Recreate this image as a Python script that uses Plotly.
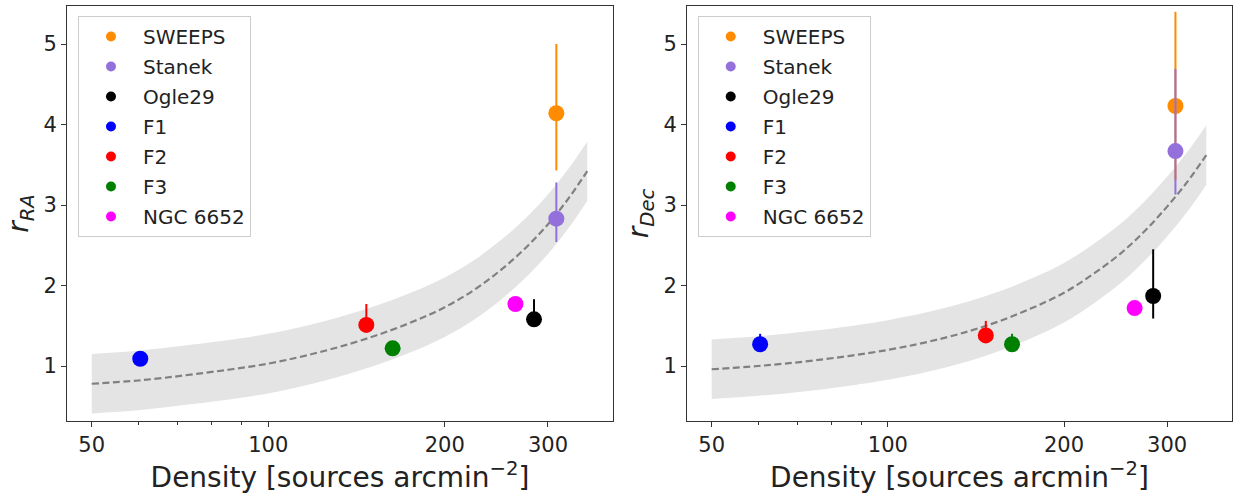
import plotly.graph_objects as go

# Surveys / fields and their source densities [sources arcmin^-2]
names = ["SWEEPS", "Stanek", "Ogle29", "F1", "F2", "F3", "NGC 6652"]
colors = ["#ff8c00", "#9370db", "#000000", "#0000ff", "#ff0000", "#008000", "#ff00ff"]
density = [310, 310, 284, 60.5, 147, 163, 264]

# Scale ratios along RA with asymmetric uncertainties
r_ra = [4.14, 2.83, 1.58, 1.09, 1.51, 1.22, 1.77]
r_ra_up = [0.86, 0.45, 0.25, 0.0, 0.26, 0.0, 0.0]
r_ra_dn = [0.71, 0.29, 0.0, 0.0, 0.0, 0.0, 0.0]

# Scale ratios along Dec with asymmetric uncertainties
r_dec = [4.23, 3.67, 1.87, 1.27, 1.38, 1.27, 1.72]
r_dec_up = [1.17, 1.02, 0.58, 0.13, 0.18, 0.13, 0.0]
r_dec_dn = [0.92, 0.54, 0.28, 0.0, 0.0, 0.0, 0.0]

# Model relation and its 1-sigma envelope
fit_x = [50, 60, 75, 100, 125, 150, 175, 200, 225, 250, 275, 300, 325, 350]
fit_ra = [0.78, 0.82, 0.90, 1.03, 1.19, 1.36, 1.54, 1.73, 1.95, 2.20, 2.47, 2.76, 3.08, 3.42]
fit_ra_lo = [0.41, 0.45, 0.53, 0.66, 0.82, 0.99, 1.17, 1.36, 1.58, 1.83, 2.10, 2.39, 2.71, 3.05]
fit_ra_hi = [1.15, 1.19, 1.27, 1.40, 1.56, 1.73, 1.91, 2.10, 2.32, 2.57, 2.84, 3.13, 3.45, 3.79]
fit_dec = [0.96, 1.00, 1.07, 1.20, 1.35, 1.52, 1.71, 1.91, 2.15, 2.40, 2.68, 2.98, 3.29, 3.62]
fit_dec_lo = [0.59, 0.63, 0.70, 0.83, 0.98, 1.15, 1.34, 1.54, 1.78, 2.03, 2.31, 2.61, 2.92, 3.25]
fit_dec_hi = [1.33, 1.37, 1.44, 1.57, 1.72, 1.89, 2.08, 2.28, 2.52, 2.77, 3.05, 3.35, 3.66, 3.99]

x_ticks = [50, 100, 200, 300]
x_minor = [60, 70, 80, 90]
y_ticks = [1, 2, 3, 4, 5]

FONT = "DejaVu Sans"
INK = "#222222"
BAND = "#e4e4e4"

fig = go.Figure()


def add_panel(xa, ya, lg, y, up, dn, fit, lo, hi):
    fig.add_trace(go.Scatter(x=fit_x, y=lo, mode="lines", line=dict(width=0, shape="spline"),
                             xaxis=xa, yaxis=ya, showlegend=False, hoverinfo="skip"))
    fig.add_trace(go.Scatter(x=fit_x, y=hi, mode="lines", line=dict(width=0, shape="spline"),
                             fill="tonexty", fillcolor=BAND,
                             xaxis=xa, yaxis=ya, showlegend=False, hoverinfo="skip"))
    fig.add_trace(go.Scatter(x=fit_x, y=fit, mode="lines",
                             line=dict(color="#808080", width=2.2, dash="7px,3.5px", shape="spline"),
                             xaxis=xa, yaxis=ya, showlegend=False, hoverinfo="skip"))
    for i, n in enumerate(names):
        fig.add_trace(go.Scatter(
            x=[density[i]], y=[y[i]], mode="markers",
            marker=dict(color=colors[i], size=16, line=dict(width=0)),
            error_y=dict(type="data", symmetric=False, array=[up[i]], arrayminus=[dn[i]],
                         color=colors[i], thickness=2, width=0),
            xaxis=xa, yaxis=ya, showlegend=False, name=n))
    for i, n in enumerate(names):
        fig.add_trace(go.Scatter(
            x=[None], y=[None], mode="markers", name=n,
            marker=dict(color=colors[i], size=10),
            xaxis=xa, yaxis=ya, legend=lg, legendgroup=lg + n, showlegend=True))


add_panel("x", "y", "legend", r_ra, r_ra_up, r_ra_dn, fit_ra, fit_ra_lo, fit_ra_hi)
add_panel("x2", "y2", "legend2", r_dec, r_dec_up, r_dec_dn, fit_dec, fit_dec_lo, fit_dec_hi)

xaxis_common = dict(
    type="log", range=[1.6568, 2.588],
    tickmode="array", tickvals=x_ticks, ticktext=[str(v) for v in x_ticks],
    ticks="outside", ticklen=5, tickwidth=1, tickcolor="#333333",
    minor=dict(tickmode="array", tickvals=x_minor, ticks="outside", ticklen=3,
               tickwidth=1, tickcolor="#333333"),
    showgrid=False, zeroline=False,
    showline=True, linecolor="#333333", linewidth=1, mirror=True,
    tickfont=dict(family=FONT, size=21, color=INK),
    title=dict(text="Density [sources arcmin<sup>\u22122</sup>]",
               font=dict(family=FONT, size=28, color=INK), standoff=6),
)
yaxis_common = dict(
    range=[0.317, 5.472],
    tickmode="array", tickvals=y_ticks,
    ticks="outside", ticklen=5, tickwidth=1, tickcolor="#333333",
    showgrid=False, zeroline=False,
    showline=True, linecolor="#333333", linewidth=1, mirror=True,
    tickfont=dict(family=FONT, size=21, color=INK),
)

legend_common = dict(
    bgcolor="white", bordercolor="#cccccc", borderwidth=1,
    font=dict(family=FONT, size=20, color=INK),
    xanchor="left", yanchor="top", y=0.976,
    tracegroupgap=1, itemwidth=54,
)

fig.update_layout(
    width=1236, height=494,
    margin=dict(l=67, r=4, t=6, b=73),
    paper_bgcolor="white", plot_bgcolor="white",
    xaxis=dict(domain=[0, 0.46867], anchor="y", **xaxis_common),
    yaxis=dict(domain=[0, 1], anchor="x",
               title=dict(text="<i>r</i><sub><i>RA</i></sub>",
                          font=dict(family=FONT, size=28, color=INK), standoff=6),
               **yaxis_common),
    xaxis2=dict(domain=[0.53219, 1], anchor="y2", **xaxis_common),
    yaxis2=dict(domain=[0, 1], anchor="x2",
                title=dict(text="<i>r</i><sub><i>Dec</i></sub>",
                           font=dict(family=FONT, size=28, color=INK), standoff=6),
                **yaxis_common),
    legend=dict(x=0.00944, **legend_common),
    legend2=dict(x=0.5414, **legend_common),
)

fig.write_html("out.html")
